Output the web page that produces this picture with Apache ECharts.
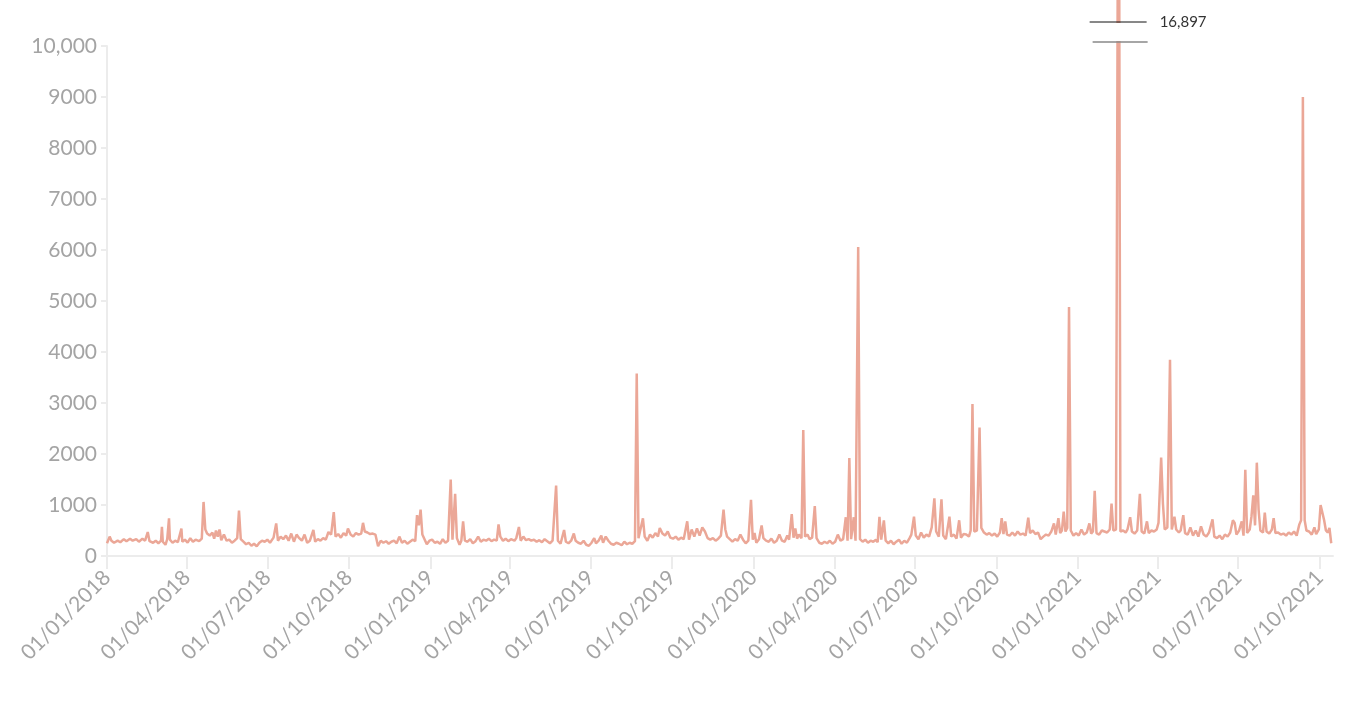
<!DOCTYPE html>
<html>
<head>
<meta charset="utf-8">
<script src="https://cdn.jsdelivr.net/npm/echarts@6/dist/echarts.min.js"></script>
<style>
html,body{margin:0;padding:0;background:#fff;}
#chart{width:1369px;height:715px;}
</style>
</head>
<body>
<div id="chart"></div>
<script>
// ---- data ----
const dates2018 = ['01-01','01-04','01-06','01-09','01-13','01-16','01-20','01-23','01-27','01-30','02-03','02-06','02-10','02-13','02-16','02-18','02-22','02-25','02-28','03-03','03-04','03-05','03-08','03-10','03-12','03-13','03-16','03-19','03-22','03-26','03-27','03-30','04-02','04-05','04-08','04-11','04-15','04-18','04-20','04-22','04-24','04-27','04-30','05-02','05-04','05-06','05-08','05-10','05-13','05-16','05-19','05-22','05-25','05-28','05-30','06-01','06-04','06-07','06-10','06-13','06-16','06-19','06-22','06-25','06-28','07-01','07-04','07-08','07-11','07-13','07-16','07-19','07-22','07-25','07-28','07-31','08-03','08-06','08-09','08-12','08-15','08-18','08-22','08-24','08-27','08-30','09-02','09-05','09-08','09-11','09-14','09-16','09-19','09-22','09-25','09-28','09-30','10-03','10-06','10-09','10-12','10-15','10-17','10-19','10-22','10-25','10-28','10-31','11-03','11-06','11-09','11-12','11-15','11-18','11-21','11-24','11-27','11-30','12-03','12-06','12-09','12-12','12-15','12-17','12-19','12-21','12-23','12-25','12-28','12-31'];
const values2018 = [250,380,300,260,300,270,330,290,340,300,330,280,340,300,470,290,260,300,250,300,570,280,220,330,740,320,260,300,270,540,280,320,260,350,280,320,290,340,1060,520,440,400,460,340,500,380,520,310,420,300,320,260,300,350,890,330,280,230,260,200,240,190,260,300,280,320,260,360,640,300,380,330,400,300,440,280,420,350,300,420,260,300,510,280,330,300,350,320,470,420,860,380,430,360,450,400,540,420,380,450,420,440,650,480,460,430,440,420,190,300,260,290,240,280,300,250,380,260,300,240,280,320,290,800,600,910,420,440,230,300];

const dates2019 = ['01-03','01-06','01-09','01-12','01-15','01-18','01-21','01-24','01-26','01-29','01-31','02-03','02-05','02-07','02-09','02-12','02-15','02-18','02-21','02-24','02-27','03-02','03-05','03-08','03-11','03-14','03-17','03-19','03-21','03-24','03-27','03-30','04-02','04-06','04-08','04-11','04-13','04-16','04-19','04-22','04-25','04-28','05-01','05-04','05-07','05-10','05-13','05-16','05-19','05-21','05-23','05-25','05-28','06-01','06-03','06-06','06-09','06-12','06-14','06-17','06-20','06-23','06-26','06-29','07-02','07-05','07-07','07-10','07-13','07-15','07-18','07-21','07-24','07-27','07-30','08-02','08-05','08-08','08-11','08-14','08-17','08-20','08-22','08-24','08-26','08-29','08-31','09-03','09-06','09-09','09-12','09-15','09-17','09-20','09-23','09-26','09-29','10-02','10-05','10-08','10-11','10-14','10-18','10-20','10-23','10-26','10-29','11-01','11-04','11-07','11-10','11-13','11-16','11-19','11-22','11-25','11-28','11-30','12-02','12-05','12-08','12-11','12-14','12-17','12-20','12-23','12-26','12-29','12-31'];
const values2019 = [320,260,280,240,330,260,300,1500,320,1220,350,220,300,680,300,280,330,250,290,380,280,320,300,340,290,320,300,620,380,300,340,290,330,300,350,570,300,380,310,330,300,320,280,310,270,330,290,250,300,270,1380,300,240,510,280,250,300,440,300,260,240,300,220,200,260,350,250,300,400,260,380,300,240,220,260,240,210,280,230,260,240,290,3580,350,380,740,380,300,420,360,450,380,550,440,400,480,360,340,380,320,360,330,680,320,520,380,540,400,560,480,350,320,350,300,340,400,910,520,380,330,280,330,300,420,320,250,300,1100,320];

const dates2020 = ['01-02','01-04','01-07','01-10','01-12','01-15','01-18','01-21','01-24','01-27','01-30','02-02','02-05','02-08','02-10','02-13','02-15','02-17','02-19','02-21','02-24','02-26','02-28','03-02','03-04','03-07','03-10','03-12','03-15','03-18','03-21','03-24','03-27','03-30','04-02','04-05','04-08','04-11','04-14','04-16','04-18','04-20','04-23','04-25','04-28','04-30','05-03','05-06','05-09','05-12','05-15','05-18','05-20','05-22','05-24','05-27','05-29','06-01','06-04','06-07','06-10','06-13','06-16','06-19','06-22','06-25','06-27','06-30','07-02','07-05','07-08','07-11','07-14','07-17','07-20','07-23','07-25','07-28','07-31','08-02','08-05','08-09','08-11','08-14','08-17','08-20','08-22','08-25','08-28','08-31','09-02','09-04','09-06','09-09','09-12','09-14','09-17','09-20','09-23','09-26','09-29','10-02','10-05','10-07','10-09','10-11','10-13','10-16','10-19','10-22','10-25','10-28','10-31','11-03','11-06','11-08','11-11','11-14','11-17','11-20','11-23','11-26','11-29','12-02','12-05','12-07','12-10','12-12','12-14','12-16','12-18','12-20','12-22','12-24','12-27','12-30'];
const values2020 = [450,260,330,600,350,300,280,340,260,300,420,300,280,400,320,820,360,540,340,420,350,2470,380,420,330,360,980,350,260,240,280,250,300,240,280,420,300,330,760,300,1920,330,760,300,6060,330,280,320,260,300,280,320,270,770,320,700,300,250,300,230,280,320,240,300,260,350,420,770,400,330,460,360,420,380,560,1130,480,380,1110,400,330,770,380,420,340,700,360,430,420,380,500,2980,480,500,2520,550,460,420,450,400,440,380,460,740,430,680,420,400,460,400,480,420,440,400,750,450,500,430,460,330,380,420,400,480,640,420,740,450,500,870,480,550,4880,500,400,450];

const dates2021 = ['01-02','01-05','01-08','01-11','01-14','01-16','01-18','01-20','01-22','01-25','01-28','01-31','02-03','02-06','02-08','02-10','02-13','02-16','02-18','02-21','02-24','02-26','03-01','03-03','03-06','03-09','03-12','03-14','03-17','03-20','03-22','03-25','03-28','03-31','04-02','04-05','04-07','04-09','04-12','04-15','04-17','04-20','04-22','04-25','04-27','04-30','05-02','05-05','05-08','05-11','05-14','05-17','05-20','05-23','05-26','05-29','06-02','06-04','06-07','06-10','06-13','06-16','06-19','06-22','06-25','06-27','06-29','07-02','07-05','07-07','07-09','07-11','07-14','07-16','07-18','07-20','07-22','07-24','07-26','07-29','07-31','08-02','08-05','08-08','08-10','08-12','08-15','08-18','08-21','08-24','08-27','08-30','09-02','09-05','09-08','09-10','09-12','09-14','09-16','09-19','09-22','09-25','09-27','09-30','10-02','10-04','10-06','10-08','10-10','10-12','10-14'];
const values2021 = [400,520,420,460,640,440,480,1280,450,420,500,480,460,520,1030,500,520,16897,480,500,460,520,760,480,440,500,1220,480,440,680,450,500,480,520,650,1930,1030,520,560,3850,520,770,520,460,500,800,450,420,560,400,500,380,580,420,380,460,720,380,350,400,330,420,380,460,700,650,420,500,680,400,1690,450,520,780,1190,600,1830,910,500,460,850,480,440,520,740,450,460,420,440,400,460,420,480,400,620,700,9000,700,500,480,420,560,430,520,1000,980,700,500,460,550,250];

const tickDates = ['2018-01-01','2018-04-01','2018-07-01','2018-10-01','2019-01-01','2019-04-01','2019-07-01','2019-10-01','2020-01-01','2020-04-01','2020-07-01','2020-10-01','2021-01-01','2021-04-01','2021-07-01','2021-10-01'];
const yTicks = [0,1000,2000,3000,4000,5000,6000,7000,8000,9000,10000];
const xMinDate = '2018-01-01';
const xMaxDate = '2021-10-16';

// ---- build series ----
const P = s => +echarts.time.parse(s);
const seriesData = [];
[[2018, dates2018, values2018],[2019, dates2019, values2019],[2020, dates2020, values2020],[2021, dates2021, values2021]].forEach(([y, ds, vs]) => {
  ds.forEach((d, i) => seriesData.push([P(y + '-' + d), vs[i]]));
});
const yMax = yTicks[yTicks.length - 1];
let peak = seriesData[0];
seriesData.forEach(p => { if (p[1] > peak[1]) peak = p; });
const tickValues = tickDates.map(P);

const FONT = 'Lato, "Open Sans", sans-serif';
const GREY = '#a4a4a4';
const AXIS = '#ececec';

const chart = echarts.init(document.getElementById('chart'), null, {renderer: 'canvas'});
chart.setOption({
  animation: false,
  backgroundColor: '#fff',
  grid: {left: 107, right: 36, top: 46, bottom: 159, containLabel: false},
  xAxis: {
    type: 'value',
    min: P(xMinDate),
    max: P(xMaxDate),
    axisLine: {show: true, onZero: false, lineStyle: {color: AXIS, width: 2}},
    axisTick: {show: true, length: 13, lineStyle: {color: AXIS, width: 2}, customValues: tickValues},
    axisLabel: {
      show: true,
      customValues: tickValues,
      rotate: 45,
      margin: 18,
      color: GREY,
      fontFamily: FONT,
      fontSize: 21,
      formatter: v => echarts.time.format(v, '{dd}/{MM}/{yyyy}', false)
    },
    splitLine: {show: false}
  },
  yAxis: {
    type: 'value',
    min: 0,
    max: yMax,
    interval: yTicks[1] - yTicks[0],
    axisLine: {show: true, lineStyle: {color: AXIS, width: 2}},
    axisTick: {show: true, length: 6, lineStyle: {color: AXIS, width: 2}},
    axisLabel: {
      color: GREY,
      fontFamily: FONT,
      fontSize: 21,
      margin: 10,
      formatter: v => v >= 10000 ? v.toLocaleString('en-US') : String(v)
    },
    splitLine: {show: false}
  },
  series: [{
    type: 'line',
    data: seriesData,
    showSymbol: false,
    symbol: 'none',
    clip: false,
    lineStyle: {color: '#eba797', width: 2.5},
    emphasis: {disabled: true}
  }]
});

// break marker for the value beyond the axis maximum
const px = chart.convertToPixel({xAxisIndex: 0}, peak[0]);
chart.setOption({
  graphic: [
    {type: 'rect', shape: {x: px - 6, y: 23, width: 12, height: 18}, style: {fill: '#fff'}, z: 100},
    {type: 'line', shape: {x1: px - 29, y1: 22, x2: px + 28, y2: 22}, style: {stroke: '#111', lineWidth: 1}, z: 101},
    {type: 'line', shape: {x1: px - 26, y1: 42, x2: px + 29, y2: 42}, style: {stroke: '#888', lineWidth: 1.5}, z: 101},
    {type: 'text', x: px + 41, y: 22, style: {text: peak[1].toLocaleString('en-US'), fill: '#333', fontFamily: FONT, fontSize: 15, verticalAlign: 'middle', align: 'left'}, z: 101}
  ]
});
</script>
</body>
</html>
